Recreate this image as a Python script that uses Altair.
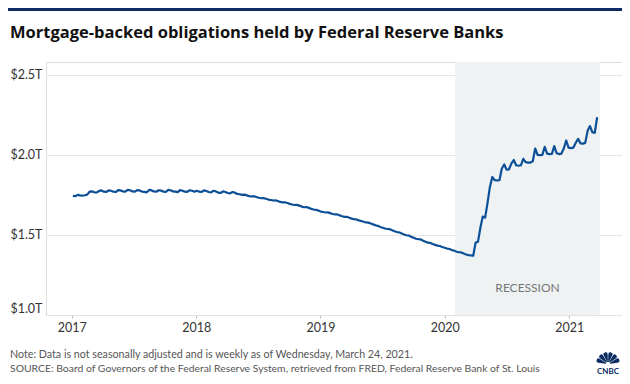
import math
import altair as alt
import pandas as pd

# ---------------- data ----------------
v2017 = [1.744, 1.742, 1.750, 1.747,
         1.746, 1.748, 1.752, 1.770,
         1.772, 1.766, 1.765, 1.775, 1.778,
         1.770, 1.768, 1.778, 1.776,
         1.770, 1.768, 1.780, 1.778, 1.772,
         1.770, 1.781, 1.779, 1.772,
         1.770, 1.780, 1.778, 1.771,
         1.769, 1.766, 1.781, 1.778, 1.772,
         1.770, 1.779, 1.777, 1.770,
         1.768, 1.781, 1.779, 1.772,
         1.770, 1.767, 1.780, 1.776, 1.770,
         1.769, 1.779, 1.776, 1.770]
v2018 = [1.776, 1.770, 1.768, 1.778, 1.774,
         1.768, 1.766, 1.776, 1.772,
         1.764, 1.762, 1.772, 1.768,
         1.762, 1.760, 1.768, 1.764,
         1.756, 1.754, 1.750, 1.752, 1.747,
         1.742, 1.740, 1.742, 1.737,
         1.732, 1.729, 1.730, 1.726,
         1.721, 1.718, 1.715, 1.716, 1.712,
         1.706, 1.703, 1.704, 1.699,
         1.694, 1.690, 1.687, 1.688, 1.683,
         1.677, 1.673, 1.674, 1.669,
         1.663, 1.659, 1.657, 1.652]
v2019 = [1.646, 1.643, 1.640, 1.641, 1.636,
         1.631, 1.628, 1.628, 1.622,
         1.617, 1.613, 1.613, 1.607,
         1.602, 1.598, 1.597, 1.591,
         1.587, 1.582, 1.578, 1.577, 1.571,
         1.566, 1.560, 1.557, 1.550,
         1.545, 1.540, 1.537, 1.536, 1.529,
         1.523, 1.518, 1.516, 1.509,
         1.503, 1.498, 1.496, 1.488,
         1.482, 1.476, 1.473, 1.472, 1.464,
         1.458, 1.452, 1.450, 1.443,
         1.438, 1.433, 1.431, 1.425]
v2020 = [1.420, 1.415, 1.412, 1.406, 1.402,
         1.395, 1.392, 1.391, 1.384,
         1.378, 1.374, 1.372, 1.370,
         1.452, 1.458, 1.545, 1.615, 1.608,
         1.700, 1.800, 1.862, 1.842,
         1.840, 1.842, 1.915, 1.940,
         1.908, 1.910, 1.945, 1.968, 1.935,
         1.932, 1.935, 1.975, 1.955,
         1.952, 1.952, 1.960, 2.040, 2.000,
         1.998, 2.000, 2.050, 2.008,
         2.005, 2.006, 2.055, 2.010,
         2.005, 2.008, 2.040, 2.090, 2.045]
v2021 = [2.042, 2.045, 2.075, 2.100,
         2.072, 2.070, 2.075, 2.150,
         2.180, 2.140, 2.138, 2.235]

first_week = "2017-01-04"
last_week = "2021-03-24"
recession_start = "2020-02-01"
recession_end = "2021-04-01"

y_ticks = [1.0, 1.5, 2.0, 2.5]
x_tick_years = [2017, 2018, 2019, 2020, 2021]

title_text = "Mortgage-backed obligations held by Federal Reserve Banks"
note_text = "Note: Data is not seasonally adjusted and is weekly as of Wednesday, March 24, 2021."
source_text = ("SOURCE: Board of Governors of the Federal Reserve System, retrieved from FRED, "
               "Federal Reserve Bank of St. Louis")
band_label = "RECESSION"

# ---------------- tables ----------------
values = v2017 + v2018 + v2019 + v2020 + v2021
dates = pd.date_range(first_week, last_week, freq="W-WED")
df = pd.DataFrame({"date": dates, "value": values})

band_df = pd.DataFrame({"start": [pd.Timestamp(recession_start)],
                        "end": [pd.Timestamp(recession_end)]})
band_df["mid"] = band_df["start"] + (band_df["end"] - band_df["start"]) / 2

dummy = pd.DataFrame({"a": [0]})

FONT = "Lato"
TFONT = "Open Sans"
LINE = "#0d4f97"
NAVY = "#0c2c63"

x_scale = alt.Scale(domain=[alt.DateTime(year=2016, month=10, date=17),
                            alt.DateTime(year=2021, month=6, date=5)])
y_scale = alt.Scale(domain=[1.0, 2.58], nice=False, zero=False)

x_axis = alt.Axis(values=[alt.DateTime(year=y, month=1, date=1) for y in x_tick_years],
                  format="%Y", title=None, grid=False, domain=True,
                  domainColor="#e2e2e2", tickColor="#bbbbbb", tickSize=3,
                  labelPadding=3, labelFontSize=12.5, labelColor="#333333",
                  labelFont=FONT, labelFlush=False)
y_axis = alt.Axis(values=y_ticks, title=None, domain=False, ticks=False,
                  labelExpr="'$' + format(datum.value, '.1f') + 'T'",
                  gridColor="#e6e6e6", labelPadding=4, labelFontSize=12.5,
                  labelColor="#333333", labelFont=FONT, labelFlush=True)

band = alt.Chart(band_df).mark_rect(color="#eef2f3").encode(
    x=alt.X("start:T", scale=x_scale, axis=x_axis),
    x2="end:T",
    y=alt.value(0),
    y2=alt.value(253),
)

band_text = alt.Chart(band_df).mark_text(
    text=band_label, font=FONT, fontSize=12, color="#777777", baseline="middle"
).encode(x="mid:T", y=alt.value(226))

line = alt.Chart(df).mark_line(color=LINE, strokeWidth=2.2, strokeJoin="round").encode(
    x=alt.X("date:T", scale=x_scale, axis=x_axis),
    y=alt.Y("value:Q", scale=y_scale, axis=y_axis),
)

title = alt.Chart(dummy).mark_text(
    text=title_text, font=TFONT, fontSize=16.5, fontWeight="bold", color="#111111",
    align="left", baseline="alphabetic"
).encode(x=alt.value(-36), y=alt.value(-24))

note = alt.Chart(dummy).mark_text(
    text=note_text, font=FONT, fontSize=10.7, color="#555555",
    align="left", baseline="alphabetic"
).encode(x=alt.value(-36), y=alt.value(296))

source = alt.Chart(dummy).mark_text(
    text=source_text, font=FONT, fontSize=10.4, color="#555555",
    align="left", baseline="alphabetic"
).encode(x=alt.value(-36), y=alt.value(310))

top_bar = alt.Chart(dummy).mark_rect(color=NAVY).encode(
    x=alt.value(-38), x2=alt.value(576), y=alt.value(-54), y2=alt.value(-51))

# CNBC peacock-like logo
petals = []
for i in range(6):
    start = -82 + i * 28
    end = start + 24
    t1 = math.radians(start % 360)
    t2 = math.radians(end % 360) if end % 360 != 0 else 2 * math.pi
    petals.append(
        alt.Chart(dummy).mark_arc(radius=12, radius2=2, theta=t1, theta2=t2,
                                  color=NAVY, cornerRadius=2)
        .encode(x=alt.value(562), y=alt.value(302))
    )
logo_text = alt.Chart(dummy).mark_text(
    text="CNBC", font=FONT, fontSize=8, fontWeight="bold", color=NAVY,
    align="center", baseline="alphabetic"
).encode(x=alt.value(562), y=alt.value(312))

chart = alt.layer(band, line, band_text, title, note, source, top_bar, logo_text, *petals).properties(
    width=576, height=253,
    padding={"left": 38, "top": 54, "right": 0, "bottom": 61},
    autosize="none",
).configure_view(stroke=None).configure(font=FONT)

chart.save("out.html", embed_options={"renderer": "svg", "actions": False})
